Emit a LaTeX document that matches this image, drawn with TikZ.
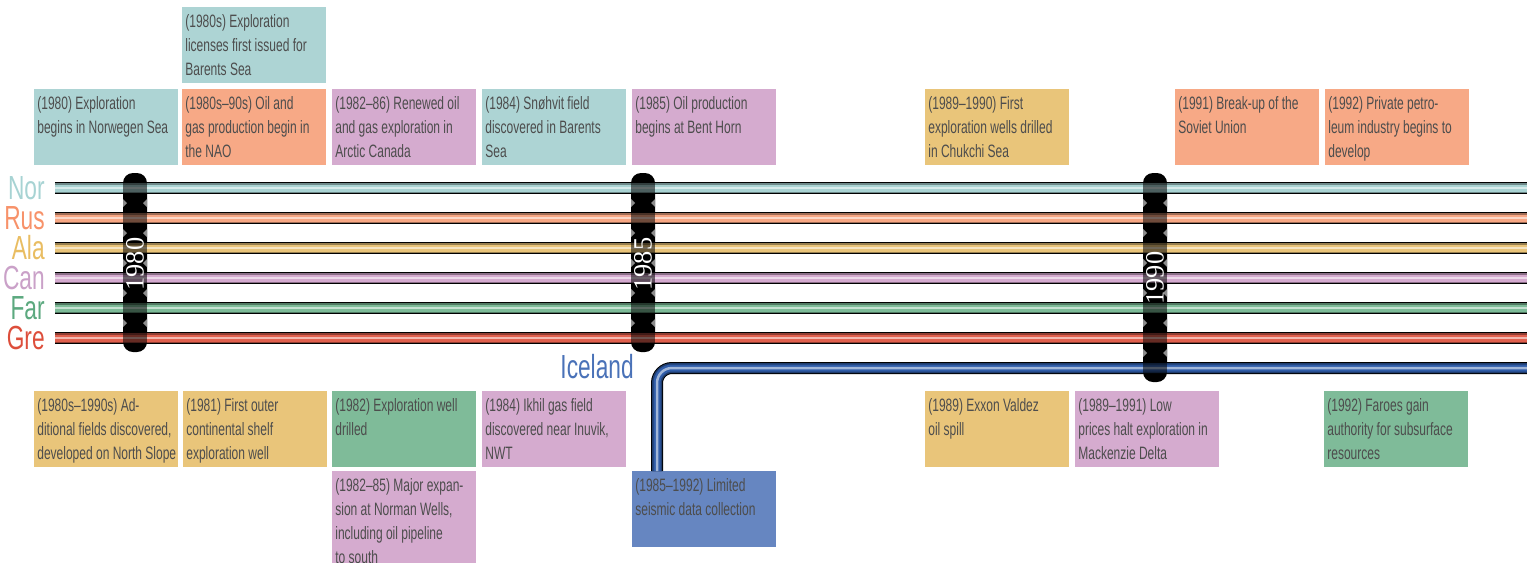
\documentclass[tikz,border=0pt]{standalone}
\usepackage{fontspec}
\setmainfont{Liberation Sans}[FakeStretch=0.67]
\newfontfamily\lblfont{Liberation Sans}[FakeStretch=0.68]
\newfontfamily\yearfont{Liberation Serif}
\usepackage{tikz}
\usetikzlibrary{calc,positioning}
\usepackage{xcolor}

% track colours
\definecolor{cNor}{HTML}{A9D3D3}
\definecolor{cRus}{HTML}{F7A784}
\definecolor{cAla}{HTML}{E9C47A}
\definecolor{cCan}{HTML}{D4AACF}
\definecolor{cFar}{HTML}{7DBB98}
\definecolor{cGre}{HTML}{E0604E}
\definecolor{cIce}{HTML}{2F5CA8}
% label colours
\definecolor{labNor}{HTML}{A7D3D3}
\definecolor{labRus}{HTML}{F7926A}
\definecolor{labAla}{HTML}{E9BD62}
\definecolor{labCan}{HTML}{CAA1C8}
\definecolor{labFar}{HTML}{5CA97F}
\definecolor{labGre}{HTML}{DD4E3B}
\definecolor{labIce}{HTML}{4A72B8}
% box colours
\definecolor{bxTeal}{HTML}{ADD4D4}
\definecolor{bxOrange}{HTML}{F7A986}
\definecolor{bxPurple}{HTML}{D5ABCF}
\definecolor{bxYellow}{HTML}{E9C57A}
\definecolor{bxGreen}{HTML}{7FBB99}
\definecolor{bxBlue}{HTML}{6686C1}
\definecolor{txt}{HTML}{4D4D4D}

\newcommand{\evtext}[1]{\makebox[2.76cm][l]{\begin{tabular}[t]{@{}l@{}}#1\end{tabular}}}

\tikzset{
    evt/.style={anchor=north west, fill=#1, text=txt,
        inner xsep=0.06cm, inner ysep=0.1cm,
        text height=0.3cm, text depth=1.02cm,
        font=\fontsize{10.2}{13.66}\selectfont},
    lbl/.style={anchor=east, inner sep=0pt, font=\lblfont\fontsize{19}{19}\selectfont},
    track/.style={draw=black, line width=0.24cm,
        postaction={draw=#1!65!black, line width=0.2cm},
        postaction={draw=#1, line width=0.14cm},
        postaction={draw=#1!45!white, line width=0.05cm}},
    yearlbl/.style={rotate=90, text=white, inner sep=0pt,
        font=\yearfont\fontsize{15}{15}\selectfont},
    notch/.style={fill=black!45}
}

\begin{document}
\begin{tikzpicture}[x=0.02cm, y=-0.02cm]
    \path[use as bounding box, clip] (0, 0) rectangle (1527, 562);

    % events above the tracks
    \node[evt=bxTeal] (evBarLic) at (182, 7) {\evtext{(1980s) Exploration\\licenses first issued for\\Barents Sea}};
    \node[evt=bxTeal] (evNorSea) at (34, 89) {\evtext{(1980) Exploration\\begins in Norwegen Sea}};
    \node[evt=bxOrange] (evNao) at (182, 89) {\evtext{(1980s--90s) Oil and\\gas production begin in\\the NAO}};
    \node[evt=bxPurple] (evArcCan) at (332, 89) {\evtext{(1982--86) Renewed oil\\and gas exploration in\\Arctic Canada}};
    \node[evt=bxTeal] (evSnohvit) at (482, 89) {\evtext{(1984) Snøhvit field\\discovered in Barents\\Sea}};
    \node[evt=bxPurple] (evBentHorn) at (632, 89) {\evtext{(1985) Oil production\\begins at Bent Horn}};
    \node[evt=bxYellow] (evChukchi) at (925, 89) {\evtext{(1989--1990) First\\exploration wells drilled\\in Chukchi Sea}};
    \node[evt=bxOrange] (evSoviet) at (1175, 89) {\evtext{(1991) Break-up of the\\Soviet Union}};
    \node[evt=bxOrange] (evPrivate) at (1325, 89) {\evtext{(1992) Private petro-\\leum industry begins to\\develop}};

    % events below the tracks
    \node[evt=bxYellow] (evNSlope) at (34, 391) {\evtext{(1980s--1990s) Ad-\\ditional fields discovered,\\developed on North Slope}};
    \node[evt=bxYellow] (evOcs) at (183, 391) {\evtext{(1981) First outer\\continental shelf\\exploration well}};
    \node[evt=bxGreen] (evFarWell) at (332, 391) {\evtext{(1982) Exploration well\\drilled}};
    \node[evt=bxPurple] (evIkhil) at (482, 391) {\evtext{(1984) Ikhil gas field\\discovered near Inuvik,\\NWT}};
    \node[evt=bxPurple, text depth=1.9cm] (evNorman) at (332, 471) {\evtext{(1982--85) Major expan-\\sion at Norman Wells,\\including oil pipeline\\to south}};
    \node[evt=bxBlue] (evSeismic) at (632, 471) {\evtext{(1985--1992) Limited\\seismic data collection}};
    \node[evt=bxYellow] (evValdez) at (925, 391) {\evtext{(1989) Exxon Valdez\\oil spill}};
    \node[evt=bxPurple] (evMack) at (1075, 391) {\evtext{(1989--1991) Low\\prices halt exploration in\\Mackenzie Delta}};
    \node[evt=bxGreen] (evFaroes) at (1324, 391) {\evtext{(1992) Faroes gain\\authority for subsurface\\resources}};

    % year bars
    \fill[rounded corners=0.2cm] (123, 173) rectangle (147, 352);
    \fill[rounded corners=0.2cm] (631, 173) rectangle (655, 352);
    \fill[rounded corners=0.2cm] (1143, 173) rectangle (1167, 382);
    \foreach \x/\n in {135/5, 643/5, 1155/6}
        \foreach \k in {1,...,\n} {
            \fill[notch] (\x-12, 199+30*\k-30) -- (\x-8, 203+30*\k-30) -- (\x-12, 207+30*\k-30) -- cycle;
            \fill[notch] (\x+12, 199+30*\k-30) -- (\x+8, 203+30*\k-30) -- (\x+12, 207+30*\k-30) -- cycle;
        }

    % tracks
    \foreach \nm/\y in {Nor/188, Rus/218, Ala/248, Can/278, Far/308, Gre/338} {
        \node[lbl, text=lab\nm] (\nm) at (45, \y) {\nm};
        \coordinate (\nm-e) at (1527, \y);
        \draw[track=c\nm] ([xshift=0.2cm]\nm.east) -- (\nm-e);
    }
    \node[lbl, text=labIce] (Ice) at (634, 367) {Iceland};
    \coordinate (Ice-e) at (1527, 368);
    \draw[track=cIce, rounded corners=0.3cm] (evSeismic.north west -| 657, 0) |- (Ice-e);

    % darken tracks where the bars cross
    \foreach \x in {135, 643, 1155}
        \foreach \y in {188, 218, 248, 278, 308, 338}
            \fill[black, opacity=0.55] (\x-12, \y-6) rectangle (\x+12, \y+6);
    \fill[black, opacity=0.55] (1143, 362) rectangle (1167, 374);

    \node[yearlbl] (y1980) at (135, 264) {1980};
    \node[yearlbl] (y1985) at (643, 264) {1985};
    \node[yearlbl] (y1990) at (1155, 278) {1990};
\end{tikzpicture}
\end{document}
